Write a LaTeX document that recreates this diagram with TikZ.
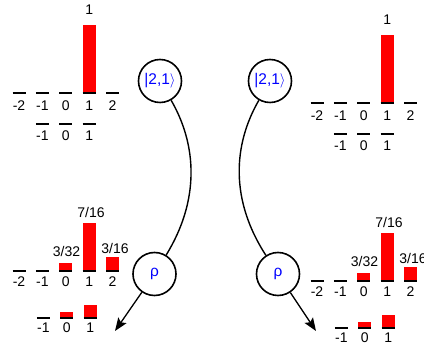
\documentclass[tikz,border=0pt]{standalone}
\usepackage{fontspec}
\setmainfont{Liberation Sans}
\usetikzlibrary{arrows.meta}
\tikzset{
  lvl/.style={line width=2pt},
  barfill/.style={fill=red},
  lab/.style={font=\fontsize{14}{16}\selectfont, anchor=base, inner sep=0pt},
  state/.style={circle, draw, line width=1.6pt, minimum size=43pt, inner sep=0pt,
    text=blue, font=\fontsize{15.5}{18}\selectfont},
  link/.style={line width=1.4pt},
  outarrow/.style={line width=1.3pt, -{Stealth[length=13pt,width=10pt,inset=2.5pt]}}
}
\begin{document}
\begin{tikzpicture}[x=1pt,y=-1pt]
\useasboundingbox (0,0) rectangle (424,347);
% ---------- top panels (left and right copy) ----------
\foreach \sx/\sy in {0/0, 298/10}{
\begin{scope}[shift={(\sx,\sy)}]
  \fill[barfill] (82.7,25) rectangle (95.7,93.5);
  \node[lab] at (89.2,15) {1};
  \foreach \k/\t in {0/-2,1/-1,2/0,3/1,4/2}{
    \draw[lvl] ({19+23.4*\k-6.5},93.5) -- ({19+23.4*\k+6.5},93.5);
    \node[lab] at ({19+23.4*\k},110.5) {\t};
  }
  \foreach \k/\t in {1/-1,2/0,3/1}{
    \draw[lvl] ({19+23.4*\k-6.5},124) -- ({19+23.4*\k+6.5},124);
    \node[lab] at ({19+23.4*\k},140.5) {\t};
  }
\end{scope}
}
% ---------- bottom panels ----------
\foreach \sx/\sy in {0/0, 298/10}{
\begin{scope}[shift={(\sx,\sy)}]
  \fill[barfill] (59.3,263) rectangle (72.3,271);
  \fill[barfill] (82.7,223) rectangle (95.7,271);
  \fill[barfill] (106.1,257) rectangle (119.1,271);
  \node[lab] at (66.5,257) {3/32};
  \node[lab] at (91,218) {7/16};
  \node[lab] at (115,254) {3/16};
  \foreach \k/\t in {0/-2,1/-1,2/0,3/1,4/2}{
    \draw[lvl] ({19+23.4*\k-6.5},271) -- ({19+23.4*\k+6.5},271);
    \node[lab] at ({19+23.4*\k},286.5) {\t};
  }
  \fill[barfill] (60.3,312) rectangle (73.3,318);
  \fill[barfill] (83.7,305) rectangle (96.7,318);
  \foreach \k/\t in {1/-1,2/0,3/1}{
    \draw[lvl] ({20+23.4*\k-6.5},318) -- ({20+23.4*\k+6.5},318);
    \node[lab] at ({20+23.4*\k},332.5) {\t};
  }
\end{scope}
}
% ---------- states ----------
\node[state] (ketL) at (160,81) {|2,1$\rangle$};
\node[state] (ketR) at (270,81) {|2,1$\rangle$};
\node[state] (rhoL) at (154.5,274) {ρ};
\node[state] (rhoR) at (278,274) {ρ};
\coordinate (endL) at (115,331);
\coordinate (endR) at (316,331);
\draw[link] (ketL) .. controls (197,145) and (200,200) .. (rhoL);
\draw[link] (ketR) .. controls (233,145) and (230,200) .. (rhoR);
\draw[outarrow] (rhoL) -- (endL);
\draw[outarrow] (rhoR) -- (endR);
\end{tikzpicture}
\end{document}
